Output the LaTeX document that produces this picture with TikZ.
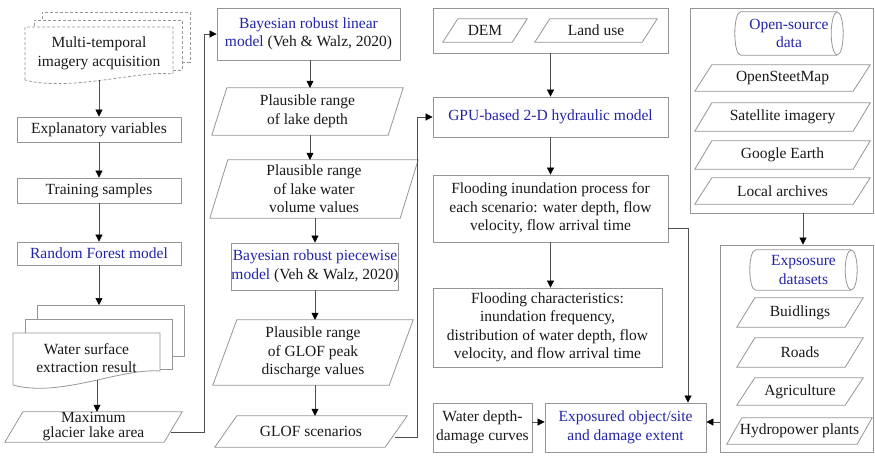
\documentclass[tikz,border=0pt]{standalone}
\usepackage{fontspec}
\setmainfont{Liberation Serif}
\usetikzlibrary{arrows.meta,calc}
\definecolor{bx}{RGB}{150,150,150}
\definecolor{tx}{RGB}{25,25,25}
\definecolor{bl}{RGB}{35,35,170}
\definecolor{ln}{RGB}{80,80,80}
\newcommand\pgram[2]{\draw[bxl] ([xshift=#2pt]#1.north west) -- (#1.north east) -- ([xshift=-#2pt]#1.south east) -- (#1.south west) -- cycle;}
\newcommand\cyl[2]{\draw[bxl] ([xshift=6pt]#1.north west) -- ([xshift=-6pt]#1.north east) ([xshift=-6pt]#1.south east) -- ([xshift=6pt]#1.south west) .. controls ([xshift=-2pt]#1.south west) and ([xshift=-2pt]#1.north west) .. ([xshift=6pt]#1.north west);
\draw[bxl] ([xshift=-6pt]#1.east) ellipse [x radius=6pt, y radius=#2pt];}
\begin{document}
\begin{tikzpicture}[x=1pt,y=-1pt,
  every node/.style={font=\fontsize{15.5}{18.5}\selectfont, text=tx, align=center, inner sep=0pt},
  bxl/.style={draw=bx, line width=0.8pt},
  rbox/.style={draw=bx, line width=0.8pt, fill=white},
  plain/.style={},
  arr/.style={draw=ln, line width=0.7pt, -{Triangle[length=7pt,width=7pt,color=black]}},
  sheet/.style={draw=bx, line width=0.8pt},
  dsheet/.style={draw=bx, line width=0.8pt, dash pattern=on 3pt off 2pt}]
\useasboundingbox (0,0) rectangle (875,455);

% ---------- column 1 ----------
\draw[dsheet] (182,62) -- (190,62) -- (190,12) -- (42,12) -- (42,20);
\draw[dsheet] (173,70) -- (182,70) -- (182,20) -- (34,20) -- (34,27);
\draw[dsheet] (25,80) -- (25,27) -- (173,27) -- (173,74) .. controls (140,70) and (70,92) .. (25,80);
\node[plain, minimum width=148pt, minimum height=53pt] (mt) at (99,53.5) {Multi-temporal\\imagery acquisition};

\node[rbox, minimum width=164pt, minimum height=25pt] (ex) at (99,129.5) {Explanatory variables};
\node[rbox, minimum width=164pt, minimum height=25pt] (ts) at (99,190.5) {Training samples};
\node[rbox, minimum width=164pt, minimum height=23pt, text=bl] (rf) at (99,253.5) {Random Forest model};

\draw[sheet] (172,356) -- (184,356) -- (184,305) -- (37,305) -- (37,319);
\draw[sheet] (160,369) -- (172,369) -- (172,319) -- (25,319) -- (25,333);
\draw[sheet] (13,385) -- (13,333) -- (160,333) -- (160,371) .. controls (120,368) and (60,398) .. (13,385);
\node[plain, minimum width=147pt, minimum height=50pt] (ws) at (86.5,358) {Water surface\\extraction result};
\coordinate (wsback) at (99,305);

\node[plain, minimum width=177pt, minimum height=30pt, font=\fontsize{15.5}{15}\selectfont] (mx) at (93.5,427) {Maximum\\glacier lake area};
\pgram{mx}{18}

% ---------- column 2 ----------
\node[rbox, minimum width=183pt, minimum height=52pt] (brl) at (308.5,34) {{\color{bl}Bayesian robust linear}\\{\color{bl}model} (Veh \& Walz, 2020)};
\node[plain, minimum width=191pt, minimum height=47pt] (ld) at (307.5,111.5) {Plausible range\\of lake depth};
\pgram{ld}{15}
\node[plain, minimum width=208pt, minimum height=58pt] (lv) at (314,189) {Plausible range\\of lake water\\volume values};
\pgram{lv}{18}
\node[rbox, minimum width=166pt, minimum height=47pt] (brp) at (315,266.5) {{\color{bl}Bayesian robust piecewise}\\{\color{bl}model} (Veh \& Walz, 2020)};
\node[plain, minimum width=200pt, minimum height=65pt] (gp) at (313,352.5) {Plausible range\\of GLOF peak\\discharge values};
\pgram{gp}{24}
\node[plain, minimum width=192pt, minimum height=31pt] (gs) at (311,431.5) {GLOF scenarios};
\pgram{gs}{22}

% ---------- column 3 ----------
\node[rbox, minimum width=235pt, minimum height=45pt] (dl) at (550.5,30.5) {};
\node[plain, minimum width=84pt, minimum height=23pt] (dem) at (485,30.5) {DEM};
\pgram{dem}{15}
\node[plain, minimum width=122pt, minimum height=23pt] (lu) at (596,30.5) {Land use};
\pgram{lu}{15}
\node[rbox, minimum width=235pt, minimum height=40pt, text=bl] (gpu) at (550.5,117) {GPU-based 2-D hydraulic model};
\node[rbox, minimum width=235pt, minimum height=67pt] (fi) at (550.5,208.5) {Flooding inundation process for\\each scenario: water depth, flow\\velocity, flow arrival time};
\node[rbox, minimum width=229pt, minimum height=79pt] (fc) at (547.5,327.5) {Flooding characteristics:\\inundation frequency,\\distribution of water depth, flow\\velocity, and flow arrival time};
\node[rbox, minimum width=99pt, minimum height=49pt] (wd) at (482.5,427.5) {Water depth-\\damage curves};
\node[rbox, minimum width=161pt, minimum height=49pt, text=bl] (eo) at (625.5,427.5) {Exposured object/site\\and damage extent};

% ---------- column 4 ----------
\node[rbox, minimum width=183pt, minimum height=205pt] (os) at (781.5,110.5) {};
\node[plain, minimum width=108pt, minimum height=43pt, text=bl] (osd) at (789,33.5) {Open-source\\data};
\cyl{osd}{21.5}
\node[plain, minimum width=175pt, minimum height=26pt] (osm) at (782.5,78) {OpenSteetMap};
\pgram{osm}{17}
\node[plain, minimum width=175pt, minimum height=28pt] (sat) at (782.5,117) {Satellite imagery};
\pgram{sat}{17}
\node[plain, minimum width=175pt, minimum height=28pt] (ge) at (782.5,155) {Google Earth};
\pgram{ge}{17}
\node[plain, minimum width=175pt, minimum height=26pt] (la) at (782.5,191) {Local archives};
\pgram{la}{17}

\node[rbox, minimum width=153pt, minimum height=207pt] (expo) at (796.5,348.5) {};
\node[plain, minimum width=107pt, minimum height=40pt, text=bl] (exd) at (803.5,270) {Expsosure\\datasets};
\cyl{exd}{20}
\node[plain, minimum width=126pt, minimum height=29pt] (bu) at (800,312.5) {Buidlings};
\pgram{bu}{18}
\node[plain, minimum width=126pt, minimum height=29pt] (ro) at (800,352.5) {Roads};
\pgram{ro}{18}
\node[plain, minimum width=126pt, minimum height=27pt] (ag) at (800,391.5) {Agriculture};
\pgram{ag}{18}
\node[plain, minimum width=145pt, minimum height=26pt] (hp) at (799.5,431) {Hydropower plants};
\pgram{hp}{15}

% ---------- connectors ----------
\draw[arr] (mt.south -| ex.north) -- (ex.north);
\draw[arr] (ex.south) -- (ts.north);
\draw[arr] (ts.south) -- (rf.north);
\draw[arr] (rf.south) -- (wsback);
\draw[arr] ([xshift=10.5pt,yshift=3pt]ws.south) -- ([xshift=10.5pt]ws.south |- mx.north);
\draw[arr] ([xshift=-11pt,yshift=-5pt]mx.east) -| ($(brl.west)+(-12,0)$) -- (brl.west);

\draw[arr] ([xshift=1.5pt]brl.south) -- ([xshift=1.5pt]brl.south |- ld.north);
\draw[arr] ([xshift=1.5pt]brl.south |- ld.south) -- ([xshift=1.5pt]brl.south |- lv.north);
\draw[arr] (lv.south -| brp.north) -- (brp.north);
\draw[arr] (brp.south) -- (brp.south |- gp.north);
\draw[arr] (brp.south |- gp.south) -- (brp.south |- gs.north);
\draw[arr] ([xshift=-12pt,yshift=-5.5pt]gs.east) -| ($(gpu.west)+(-15,0)$) -- (gpu.west);

\draw[arr] (dl.south) -- (gpu.north);
\draw[arr] (gpu.south) -- (fi.north);
\draw[arr] (fi.south) -- (fi.south |- fc.north);
\draw[arr] ([yshift=-19.5pt]fi.east) -| ([xshift=62.5pt]eo.north);
\draw[arr] ([yshift=5.5pt]wd.east) -- ([yshift=5.5pt]eo.west);
\draw[arr] ([yshift=-73.5pt]expo.west) -- ([yshift=5.5pt]eo.east);
\draw[arr] ([xshift=21.5pt]os.south) -- ([xshift=6.5pt]expo.north);
\end{tikzpicture}
\end{document}
